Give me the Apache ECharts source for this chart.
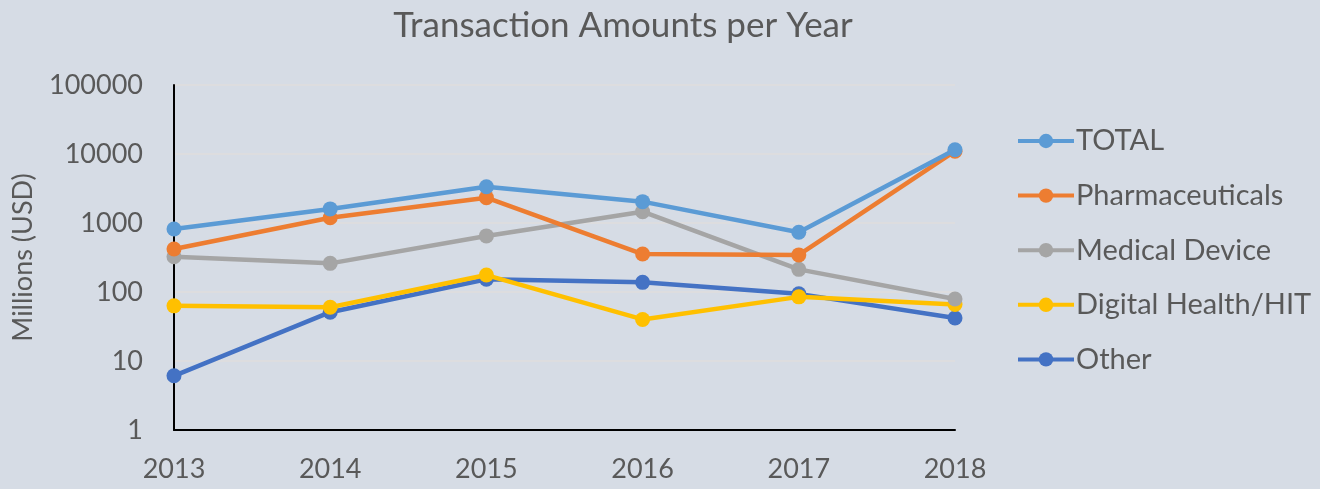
<!DOCTYPE html>
<html>
<head>
<meta charset="utf-8">
<script src="https://cdn.jsdelivr.net/npm/echarts@6/dist/echarts.min.js"></script>
<style>
  html, body { margin: 0; padding: 0; background: #d6dce5; }
  #chart { width: 1320px; height: 489px; }
</style>
</head>
<body>
<div id="chart"></div>
<script>
// data (millions USD, log scale)
var years = ['2013', '2014', '2015', '2016', '2017', '2018'];
var total = [820, 1600, 3350, 2040, 735, 11500];
var pharma = [420, 1190, 2330, 355, 345, 11000];
var medicalDevice = [325, 260, 650, 1460, 213, 79];
var digitalHealth = [63, 60, 176, 40, 85, 66];
var other = [6.1, 51, 153, 138, 94, 42];

var seriesNames = ['TOTAL', 'Pharmaceuticals', 'Medical Device', 'Digital Health/HIT', 'Other'];
var seriesData = [total, pharma, medicalDevice, digitalHealth, other];
var colors = ['#5b9bd5', '#ed7d31', '#a5a5a5', '#ffc000', '#4472c4'];

var font = 'Lato';

function makeSeries (i) {
    return {
        name: seriesNames[i],
        type: 'line',
        data: seriesData[i],
        symbol: 'circle',
        symbolSize: 15,
        lineStyle: { width: 4.5, color: colors[i] },
        itemStyle: { color: colors[i] },
        emphasis: { disabled: true },
        z: 10 - i
    };
}

var myChart = echarts.init(document.getElementById('chart'));
var option = {
    backgroundColor: '#d6dce5',
    animation: false,
    title: {
        text: 'Transaction Amounts per Year',
        left: 618,
        textAlign: 'center',
        top: 3,
        textStyle: { color: '#595959', fontSize: 35, fontWeight: 'normal', fontFamily: font }
    },
    legend: {
        orient: 'vertical',
        left: 1016,
        top: 126,
        padding: 0,
        itemGap: 24.6,
        itemWidth: 56,
        itemHeight: 18,
        lineStyle: { width: 4 },
        textStyle: { color: '#595959', fontSize: 29, lineHeight: 30, fontFamily: font, padding: [0, 0, 0, -3] },
        data: seriesNames
    },
    grid: { left: 174, right: 365, top: 85, bottom: 59, containLabel: false, outerBoundsMode: 'none' },
    xAxis: {
        type: 'category',
        data: years,
        boundaryGap: false,
        axisLine: { lineStyle: { color: '#000', width: 2 } },
        axisTick: { show: false },
        axisLabel: { color: '#595959', fontSize: 27, fontFamily: font, margin: 26 }
    },
    yAxis: {
        type: 'log',
        logBase: 10,
        min: 1,
        max: 100000,
        name: 'Millions (USD)',
        nameLocation: 'middle',
        nameRotate: 90,
        nameGap: 137,
        nameTextStyle: { color: '#595959', fontSize: 27, fontFamily: font },
        axisLine: { show: true, lineStyle: { color: '#000', width: 2 } },
        axisTick: { show: false },
        splitLine: { show: true, lineStyle: { color: '#dfdedd', width: 1.5 } },
        axisLabel: {
            color: '#595959', fontSize: 27, fontFamily: font, margin: 31,
            formatter: function (v) { return String(Math.round(v)); }
        }
    },
    series: [0, 1, 2, 3, 4].map(makeSeries)
};
myChart.setOption(option);
</script>
</body>
</html>
